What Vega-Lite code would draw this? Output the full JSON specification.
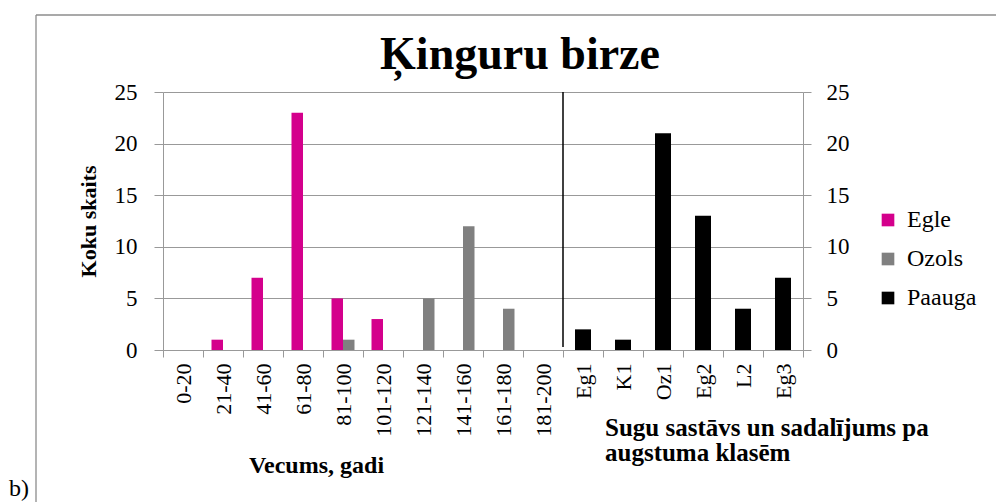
{
  "$schema": "https://vega.github.io/schema/vega-lite/v6.json",
  "width": 640,
  "height": 258,
  "autosize": {"type": "none"},
  "padding": {"left": 163, "top": 92, "right": 193, "bottom": 152},
  "background": "white",
  "config": {
    "font": "Times New Roman, Liberation Serif, serif",
    "view": {"stroke": null},
    "axis": {"labelFont": "Times New Roman, Liberation Serif, serif", "titleFont": "Times New Roman, Liberation Serif, serif", "labelColor": "black", "titleColor": "black"},
    "legend": {"labelFont": "Times New Roman, Liberation Serif, serif"},
    "text": {"font": "Times New Roman, Liberation Serif, serif"}
  },
  "title": {
    "text": "Ķinguru birze",
    "font": "Times New Roman, Liberation Serif, serif",
    "fontSize": 46,
    "fontWeight": "bold",
    "color": "black",
    "anchor": "middle",
    "frame": "group",
    "baseline": "alphabetic",
    "offset": -101,
    "dx": 37
  },
  "datasets": {
    "trees": [
      {"cat": "21-40", "series": "Egle", "value": 1},
      {"cat": "41-60", "series": "Egle", "value": 7},
      {"cat": "61-80", "series": "Egle", "value": 23},
      {"cat": "81-100", "series": "Egle", "value": 5},
      {"cat": "101-120", "series": "Egle", "value": 3},
      {"cat": "81-100", "series": "Ozols", "value": 1},
      {"cat": "121-140", "series": "Ozols", "value": 5},
      {"cat": "141-160", "series": "Ozols", "value": 12},
      {"cat": "161-180", "series": "Ozols", "value": 4},
      {"cat": "Eg1", "series": "Paauga", "value": 2},
      {"cat": "K1", "series": "Paauga", "value": 1},
      {"cat": "Oz1", "series": "Paauga", "value": 21},
      {"cat": "Eg2", "series": "Paauga", "value": 13},
      {"cat": "L2", "series": "Paauga", "value": 4},
      {"cat": "Eg3", "series": "Paauga", "value": 7}
    ]
  },
  "layer": [
    {
      "layer": [
        {
          "layer": [
            {
              "data": {"name": "trees"},
              "transform": [{"filter": "datum.series === 'Egle'"}],
              "mark": {"type": "bar", "width": 11.5, "xOffset": -5.75},
              "encoding": {
                "x": {
                  "field": "cat",
                  "type": "nominal",
                  "sort": null,
                  "scale": {
                    "domain": ["0-20", "21-40", "41-60", "61-80", "81-100", "101-120", "121-140", "141-160", "161-180", "181-200", "Eg1", "K1", "Oz1", "Eg2", "L2", "Eg3"],
                    "paddingInner": 0,
                    "paddingOuter": 0
                  },
                  "axis": {
                    "title": "Vecums, gadi",
                    "titleFont": "Times New Roman, Liberation Serif, serif",
                    "titleFontSize": 24,
                    "titleFontWeight": "bold",
                    "titleColor": "black",
                    "titleX": 153,
                    "titleY": 122,
                    "titleAlign": "center",
                    "titleBaseline": "alphabetic",
                    "labelFont": "Times New Roman, Liberation Serif, serif",
                    "labelColor": "black",
                    "labelAngle": 270,
                    "labelFontSize": 22,
                    "labelPadding": 6,
                    "tickBand": "extent",
                    "tickSize": 7,
                    "tickColor": "#999999",
                    "domainColor": "#999999",
                    "grid": false
                  }
                },
                "y": {
                  "field": "value",
                  "type": "quantitative",
                  "scale": {"domain": [0, 25], "nice": false},
                  "axis": {
                    "title": "Koku skaits",
                    "titleFont": "Times New Roman, Liberation Serif, serif",
                    "titleFontSize": 22,
                    "titleFontWeight": "bold",
                    "titleColor": "black",
                    "titlePadding": 14,
                    "labelFont": "Times New Roman, Liberation Serif, serif",
                    "labelColor": "black",
                    "labelFontSize": 23,
                    "labelPadding": 17,
                    "tickSize": 9,
                    "values": [0, 5, 10, 15, 20, 25],
                    "grid": true,
                    "gridColor": "#999999",
                    "gridWidth": 1.2,
                    "tickColor": "#999999",
                    "domainColor": "#999999"
                  }
                },
                "color": {
                  "field": "series",
                  "type": "nominal",
                  "scale": {"domain": ["Egle", "Ozols", "Paauga"], "range": ["#d4008c", "#808080", "#000000"]},
                  "legend": {
                    "title": null,
                    "orient": "none",
                    "legendX": 713,
                    "legendY": 116,
                    "symbolType": "square",
                    "symbolSize": 160,
                    "symbolStrokeWidth": 0,
                    "labelFont": "Times New Roman, Liberation Serif, serif",
                    "labelFontSize": 24,
                    "labelColor": "black",
                    "labelOffset": 7,
                    "rowPadding": 15
                  }
                }
              }
            },
            {
              "data": {"name": "trees"},
              "transform": [{"filter": "datum.series === 'Ozols'"}],
              "mark": {"type": "bar", "width": 11.5, "xOffset": 5.75},
              "encoding": {
                "x": {"field": "cat", "type": "nominal", "sort": null},
                "y": {"field": "value", "type": "quantitative", "scale": {"domain": [0, 25], "nice": false}},
                "color": {"field": "series", "type": "nominal"}
              }
            },
            {
              "data": {"values": [{}]},
              "mark": {"type": "rule", "color": "black", "strokeWidth": 1.5},
              "encoding": {
                "x": {"datum": "Eg1", "type": "nominal", "bandPosition": 0},
                "y": {"datum": 25, "type": "quantitative", "scale": {"domain": [0, 25], "nice": false}},
                "y2": {"datum": 0.3}
              }
            },
            {
              "data": {"values": [{}]},
              "mark": {
                "type": "text",
                "text": ["Sugu sastāvs un sadalījums  pa", "augstuma klasēm"],
                "font": "Times New Roman, Liberation Serif, serif",
                "align": "left",
                "baseline": "alphabetic",
                "fontSize": 25,
                "fontWeight": "bold",
                "lineHeight": 25,
                "dx": 2,
                "color": "black"
              },
              "encoding": {
                "x": {"datum": "K1", "type": "nominal", "bandPosition": 0},
                "y": {"datum": -8.33, "type": "quantitative", "scale": {"domain": [0, 25], "nice": false}}
              }
            }
          ]
        },
        {
          "data": {"name": "trees"},
          "transform": [{"filter": "datum.series === 'Paauga'"}],
          "mark": {"type": "bar", "width": 16},
          "encoding": {
            "x": {"field": "cat", "type": "nominal", "sort": null},
            "y": {
              "field": "value",
              "type": "quantitative",
              "scale": {"domain": [0, 25], "nice": false},
              "axis": {
                "orient": "right",
                "title": null,
                "labelFont": "Times New Roman, Liberation Serif, serif",
                "labelColor": "black",
                "labelFontSize": 23,
                "labelPadding": 15,
                "tickSize": 8,
                "values": [0, 5, 10, 15, 20, 25],
                "grid": false,
                "tickColor": "#999999",
                "domainColor": "#999999"
              }
            },
            "color": {"field": "series", "type": "nominal"}
          }
        }
      ],
      "resolve": {"scale": {"y": "independent"}}
    },
    {
      "data": {"values": [{}]},
      "layer": [
        {
          "mark": {"type": "rule", "color": "#8c8c8c", "strokeWidth": 1.3},
          "encoding": {
            "x": {"datum": -3.175, "type": "quantitative", "scale": {"domain": [0, 16], "nice": false}, "axis": null},
            "y": {"datum": 32.46, "type": "quantitative", "scale": {"domain": [0, 25], "nice": false}, "axis": null},
            "y2": {"datum": -16}
          }
        },
        {
          "mark": {"type": "rule", "color": "#8c8c8c", "strokeWidth": 1.3},
          "encoding": {
            "x": {"datum": -3.175, "type": "quantitative", "scale": {"domain": [0, 16], "nice": false}},
            "x2": {"datum": 21},
            "y": {"datum": 32.46, "type": "quantitative", "scale": {"domain": [0, 25], "nice": false}}
          }
        },
        {
          "mark": {"type": "text", "text": "b)", "font": "Times New Roman, Liberation Serif, serif", "align": "left", "baseline": "alphabetic", "fontSize": 24, "color": "black"},
          "encoding": {
            "x": {"datum": -3.85, "type": "quantitative", "scale": {"domain": [0, 16], "nice": false}},
            "y": {"datum": -14.1, "type": "quantitative", "scale": {"domain": [0, 25], "nice": false}}
          }
        }
      ]
    }
  ],
  "resolve": {"scale": {"x": "independent", "y": "independent"}}
}
